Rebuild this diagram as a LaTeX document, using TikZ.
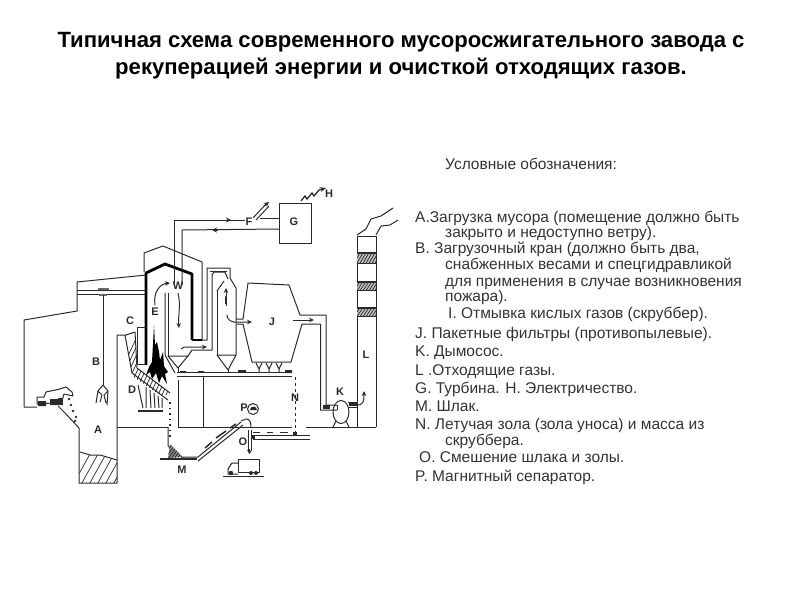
\documentclass[tikz,border=0pt]{standalone}
\usepackage{fontspec}
\setmainfont{Liberation Sans}
\usetikzlibrary{arrows.meta}
\definecolor{ink}{HTML}{2A2A2A}
\tikzset{
  ln/.style={draw=ink,line width=1pt,line join=round},
  thin ln/.style={draw=ink,line width=0.7pt},
  heavy/.style={draw=black,line width=2.8pt,line join=round},
  hatchln/.style={draw=ink,line width=0.7pt},
  flow/.style={draw=ink,line width=1pt,-{Stealth[length=5pt,width=4.5pt]}},
  tag/.style={font=\fontsize{11}{12}\selectfont\bfseries,text=ink,inner sep=0pt},
  ttl/.style={font=\fontsize{22.1}{26}\selectfont\bfseries,text=black,inner sep=0pt,anchor=base},
  lg/.style={font=\fontsize{15.5}{18}\selectfont,text=black!80,inner sep=0pt,anchor=base west},
}
\begin{document}
\begin{tikzpicture}[x=1pt,y=-1pt]
\useasboundingbox (0,0) rectangle (800,600);
% ---- title
\node[ttl] (t1) at (401,47) {Типичная схема современного мусоросжигательного завода с};
\node[ttl] (t2) at (401,74) {рекуперацией энергии и очисткой отходящих газов.};
% ---- legend
\node[lg] (l0) at (445,169) {Условные обозначения:};
\node[lg] (l1) at (415,222) {А.Загрузка мусора (помещение должно быть};
\node[lg] (l2) at (445,237) {закрыто и недоступно ветру).};
\node[lg] (l3) at (415,253) {В. Загрузочный кран (должно быть два,};
\node[lg] (l4) at (445,269) {снабженных весами и спецгидравликой};
\node[lg] (l5) at (445,286) {для применения в случае возникновения};
\node[lg] (l6) at (445,301) {пожара).};
\node[lg] (l7) at (448,318) {I. Отмывка кислых газов (скруббер).};
\node[lg] (l8) at (415,338) {J. Пакетные фильтры (противопылевые).};
\node[lg] (l9) at (415,356) {K. Дымосос.};
\node[lg] (l10) at (415,375) {L .Отходящие газы.};
\node[lg] (l11) at (415,393) {G. Турбина. Н. Электричество.};
\node[lg] (l12) at (415,411) {M. Шлак.};
\node[lg] (l13) at (415,429) {N. Летучая зола (зола уноса) и масса из};
\node[lg] (l14) at (445,445) {скруббера.};
\node[lg] (l15) at (419,462) {O. Смешение шлака и золы.};
\node[lg] (l16) at (415,481) {P. Магнитный сепаратор.};
% ---- building shell
\draw[ln] (24,407) -- (24,320) -- (77,311) -- (77,282) -- (146,275);
\draw[ln] (77,290) -- (146,290) (77,294) -- (146,294);
\fill[ink!70] (98,288) rectangle (109,290);
\fill[ink!70] (99,294) rectangle (107,296);
\draw[thin ln] (103,295) -- (103,385);
% grapple
\draw[ln] (103,385) -- (98,391) -- (96,403) (98,391) -- (102,395) -- (100,402)
          (103,385) -- (108,391) -- (107,405) (108,391) -- (104,395) -- (106,403);
% left ramp and pit
\draw[ln] (24,407) -- (37,407) (58,406) -- (66,414) -- (79,428) -- (79,483) -- (117,483) -- (117,335) -- (126,335);
\begin{scope}
\clip (80,452) -- (90,455) -- (100,455) -- (117,460) -- (117,483) -- (79,483) -- cycle;
\foreach \i in {0,8,...,64} \draw[hatchln] (70+\i,490) -- (95+\i,445);
\end{scope}
\draw[ln] (80,452) -- (90,455) -- (100,455) -- (117,460);
% left truck
\draw[ln] (37,404) -- (37,397) -- (44,397) -- (46,392) -- (60,389) -- (66,387) -- (72,392) -- (73,396) -- (64,394) -- (62,401) -- (44,404) -- cycle;
\fill[ink] (38,401) rectangle (46,406) (50,399) rectangle (62,405);
\fill[ink] (58,398) rectangle (63,405);
\foreach \p in {(69,399),(71,405),(73,411),(76,417),(75,421)} \fill[ink] \p circle (1.3);
% floor lines
\draw[ln] (117,427) -- (168,427);
\draw[ln] (178,427) -- (292,427);
\draw[ln] (306,427) -- (376,427);
\draw[ln] (168,427) -- (168,446) -- (183,458);
\draw[ln] (178,380) -- (178,427);
\draw[ln] (203,376) -- (203,427);
% ---- boiler casing
\draw[ln] (144,272) -- (144,253) -- (163,246) -- (202,262) -- (202,340);
\draw[heavy] (146,365) -- (146,273) -- (165,264) -- (192,274) -- (192,340);
\draw[line width=1.8pt,black] (192,340) -- (202,340);
\draw[ln] (202,340) -- (207,340) -- (207,268) -- (230,268) -- (230,278) -- (236,288) -- (236,355);
\draw[ln] (210,271) -- (227,271);
\draw[ln] (192,350) -- (212,350) -- (212,275) -- (214,272) -- (225,272) -- (228,279) (217,291) -- (224,281);
\draw[ln] (217,291) -- (217,355);
% boiler inner walls
\draw[ln] (165,293) -- (165,355) -- (175,373);
\draw[ln] (168,293) -- (168,356);
\draw[ln] (168,356) -- (188,356) -- (178,368) -- cycle;
\draw[ln] (188,356) -- (192,350);
\draw[ln] (178,368) -- (178,373);
% C box
\draw[ln] (146,327) -- (137,327) -- (137,364) -- (146,364);
\draw[ln] (126,335) -- (135,332);
% chute hatched
\begin{scope}
\clip (125,335) -- (135,332) -- (137,368) -- (170,393) -- (168,400) -- (133,377) -- cycle;
\foreach \i in {0,4,...,90} \draw[hatchln] (110+\i,395) -- (140+\i,330);
\end{scope}
\draw[ln] (125,335) -- (132,373) -- (168,400);
\draw[ln] (135,332) -- (137,368) -- (170,393);
% flames
\fill[black] (154,325) -- (155,345) -- (157,342) -- (159,352) -- (160,360) -- (163,352) -- (164,366) -- (168,372) -- (165,374) -- (167,384) -- (162,376) -- (159,383) -- (156,373) -- (152,379) -- (150,372) -- (146,375) -- (149,367) -- (152,362) -- cycle;
% D: grate fingers and bar
\draw[ln] (138,385) -- (143,408) (146,387) -- (146,408) (150,390) -- (151,408) (154,393) -- (155,408) (158,396) -- (159,408) (162,398) -- (162,408);
\draw[line width=2.2pt,ink] (138,411) -- (163,411);
% falling ash
\draw[ink,line width=1.1pt,dash pattern=on 1.5pt off 4pt] (170,402) -- (170,440);
% slag pit
\begin{scope}
\clip (170,444) -- (183,457) -- (168,458) -- cycle;
\fill[ink!55] (165,440) rectangle (186,460);
\foreach \i in {0,3,...,24} \draw[black,line width=0.5pt] (160+\i,462) -- (175+\i,440);
\end{scope}
\draw[line width=1.8pt,ink] (160,459) -- (197,459);
\draw[ln] (183,457) -- (198,457) -- (241,422) (198,461) -- (243,425);
\draw[line width=1.5pt,ink] (205,448) -- (212,442) (216,438) -- (226,431) (230,428) -- (236,424);
% hook at top of conveyor
\draw[ln] (241,421) -- (246,419) .. controls (250,419) and (251,422) .. (251,428);
% ---- top collector bands
\draw[ln] (177,372.5) -- (292,372.5) (177,376) -- (292,376);
\fill[ink] (180,371) rectangle (186,372.5) (198,371) rectangle (204,372.5) (285,370) rectangle (292,373) (238,370) rectangle (246,372.5);
% ---- scrubber
\draw[ln] (217,355) -- (228,370) -- (236,355) -- cycle;
\draw[ln] (228,370) -- (228,373);
\draw[flow] (226,298) -- (226,288);
\draw[ln] (226,298) -- (226,306);
\draw[flow] (227,315) .. controls (227,320) and (232,323) .. (238,322) -- (252,322);
\draw[flow] (181,349) .. controls (182,347) and (185,347) .. (188,347) -- (207,347);
% ---- filter J
\draw[ln] (236,319) -- (243,319) -- (248,283) -- (289,285) -- (300,315) -- (326,315) -- (326,405) -- (337,405);
\draw[ln] (237,324) -- (243,324) -- (252,362) -- (291,362) -- (302,324) -- (320.5,324) -- (320.5,410) -- (337,410);
\draw[flow] (293,320) -- (314,320);
\foreach \x in {259,269,279} \draw[ln] (\x-3,363) -- (\x,369) -- (\x+3,363) (\x,369) -- (\x,372);
% ---- turbine
\draw[ln] (279,203) rectangle (311,243);
\draw[ln] (174,283) -- (174,220) -- (245,220);
\draw[ln] (260,218) -- (279,218);
\draw[ln] (279,229) -- (182,230) -- (182,285);
\draw[ink,-{Stealth[length=5pt,width=5pt]},line width=1pt] (225,220) -- (231,220);
\draw[ink,-{Stealth[length=5pt,width=5pt]},line width=1pt] (218,230) -- (212,230);
\draw[ln] (253,218) -- (266,204) (256,220) -- (269,206);
\draw[ink,-{Stealth[length=5pt,width=5pt]},line width=1pt] (264,206) -- (269,202);
\draw[ink,line width=1.3pt,-{Stealth[length=6pt,width=5pt]}] (301,201) -- (305,196) -- (307,199) -- (312,193) -- (314,196) -- (319,190) -- (326,188);
% inner boiler arrows
\draw[flow] (155,305) .. controls (153,292) and (160,284) .. (170,283);
\draw[flow] (178,293) .. controls (181,305) and (178,315) .. (179,328);
% ---- stack
\draw[ln] (357,427) -- (357,236) -- (376,236) -- (376,427);
\draw[ln] (357,235) -- (366,229) -- (371,219) -- (381,216) -- (393,208);
\draw[ln] (376,235) -- (381,226) -- (390,225) -- (398,220);
\foreach \a/\b in {253/263,282/290,308/316}{
  \begin{scope}
  \clip (357,\a) rectangle (376,\b);
  \fill[ink!30] (357,\a) rectangle (376,\b);
  \foreach \i in {0,3,...,36} \draw[ink,line width=0.7pt] (350+\i,\b+2) -- (358+\i,\a-2);
  \end{scope}
  \draw[line width=1.3pt,ink] (357,\a) -- (376,\a);
  \draw[thin ln] (357,\b) -- (376,\b);
}
% ---- fan
\draw[ln] (341,412) ellipse (8 and 11.5);
\draw[ln] (337,405) -- (337,410);
\draw[ln] (348,402) -- (357,402) (348,407) -- (357,407);
\fill[ink] (349,403) rectangle (357,406);
\fill[ink] (323,405) rectangle (330,409);
\draw[ln] (333,427) -- (336,421) (349,427) -- (346,421);
\draw[flow] (357,405) .. controls (364,405) and (364,400) .. (364,391);
% ---- N and right conveyor
\draw[thin ln,dashed] (295,377) -- (295,433);
\draw[ln] (253,435) -- (310,435) (253,439) -- (310,439);
\fill[ink] (293,432) rectangle (297,435);
\fill[ink] (251,435) rectangle (255,439);
\draw[thin ln] (253,432) -- (260,432) (267,432) -- (273,432) (280,432) -- (288,432);
\draw[ln] (253,409) circle (5.5);
\fill[ink] (250,410) arc (180:360:3.5) -- cycle;
% O chute and right truck
\draw[ln] (248,430) -- (248,451) (251,430) -- (251,451);
\draw[ink,-{Stealth[length=4pt,width=5pt]},line width=1pt] (249.5,449) -- (249.5,454);
\draw[ln] (238,459) rectangle (259,472);
\draw[ln] (238,463) -- (232,463) -- (228,469) -- (228,474) -- (238,474);
\fill[ink] (231,473) circle (2.2) (251,473) circle (2) (256,473) circle (2);
\draw[ln] (223,476) -- (264,476);
% ---- letters
\node[tag] (la) at (98,430) {A};
\node[tag] (lb) at (96,362) {B};
\node[tag] (lc) at (130,321) {C};
\node[tag] (ld) at (132,390) {D};
\node[tag] (le) at (155,312) {E};
\node[tag] (lw) at (178,286) {W};
\node[tag] (lf) at (249,222) {F};
\node[tag] (lg) at (294,222) {G};
\node[tag] (lh) at (329,194) {H};
\node[tag] (li) at (226,301) {I};
\node[tag] (lj) at (272,322) {J};
\node[tag] (lk) at (340,392) {K};
\node[tag] (ll) at (366,355) {L};
\node[tag] (lm) at (182,470) {M};
\node[tag] (ln) at (295,398) {N};
\node[tag] (lo) at (243,442) {O};
\node[tag] (lp) at (244,408) {P};
\end{tikzpicture}
\end{document}
